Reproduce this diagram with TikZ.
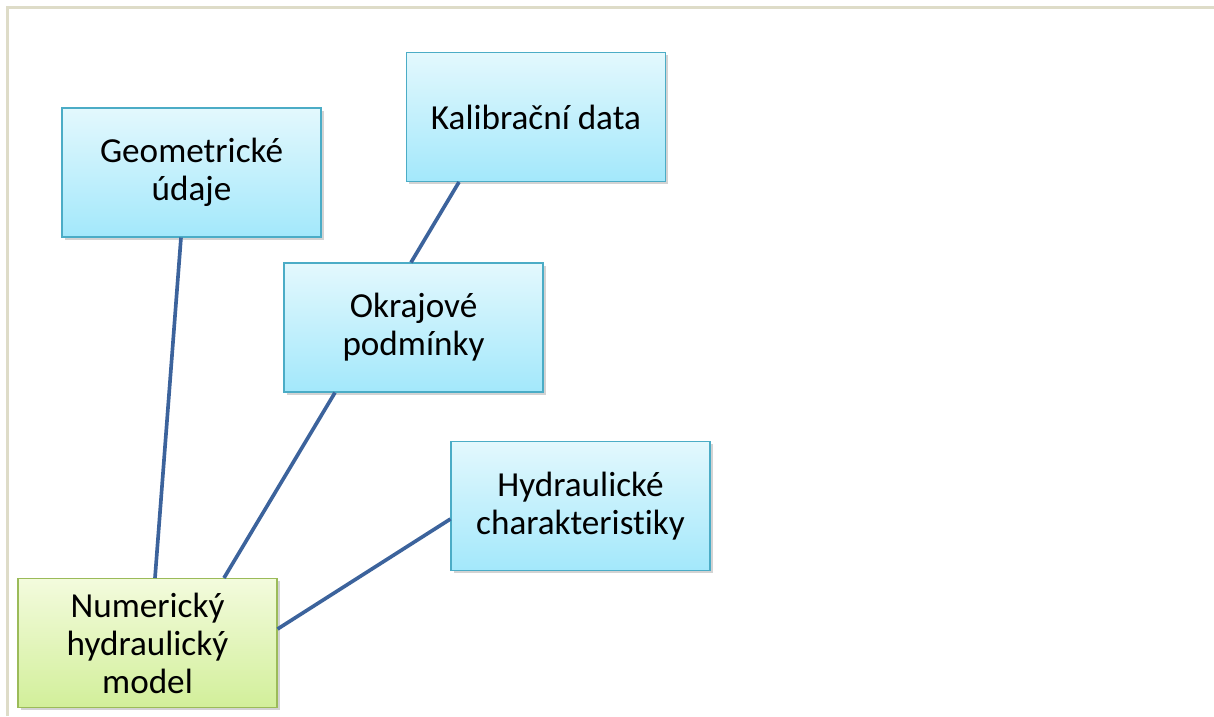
\documentclass[tikz,border=0pt]{standalone}
\usepackage{fontspec}
\setmainfont{Carlito}[Ligatures=NoCommon]
\usepackage{xcolor}
\usetikzlibrary{shadows, calc}

\definecolor{boxblueedge}{HTML}{4BACC6}
\definecolor{boxbluetop}{HTML}{E3F8FD}
\definecolor{boxbluebot}{HTML}{A3E8FB}
\definecolor{boxgreenedge}{HTML}{9BBB59}
\definecolor{boxgreentop}{HTML}{F3FBDD}
\definecolor{boxgreenbot}{HTML}{D2EF9A}
\definecolor{linkblue}{HTML}{3C639C}
\definecolor{framegray}{HTML}{DEDCC8}

\tikzset{
    databox/.style={draw=boxblueedge, line width=0.9pt, top color=boxbluetop, bottom color=boxbluebot,
        minimum width=6.47cm, minimum height=3.22cm, align=center, inner sep=2pt,
        font=\fontsize{25}{27}\selectfont,
        drop shadow={shadow xshift=0.07cm, shadow yshift=-0.07cm, opacity=0.35}},
    modelbox/.style={databox, draw=boxgreenedge, top color=boxgreentop, bottom color=boxgreenbot},
    link/.style={draw=linkblue, line width=2.6pt}
}

\begin{document}
\begin{tikzpicture}[x=0.025cm, y=-0.025cm]
            \useasboundingbox (0,0) rectangle (1214,716);
            \draw[framegray, line width=1.8pt] (7.5,716) -- (7.5,7.5) -- (1214,7.5);

            \node[databox] (geo) at (191.5, 172.5) {Geometrické\\údaje};
            \node[databox] (kal) at (536, 117) {Kalibrační data};
            \node[databox] (okr) at (413.5, 327.5) {Okrajové\\podmínky};
            \node[databox] (hyd) at (580.5, 506) {Hydraulické\\charakteristiky};
            \node[modelbox] (num) at (147.5, 643) {Numerický\\hydraulický\\model};

            \draw[link] ($(geo.south)+(-10.5,0)$) -- ($(num.north)+(7.5,0)$); % geo-num
            \draw[link] ($(kal.south)+(-77,0)$) -- ($(okr.north)+(-2.5,0)$); % kal-okr
            \draw[link] ($(okr.south)+(-78.5,0)$) -- ($(num.north)+(76.5,0)$); % okr-num
            \draw[link] ($(hyd.west)+(0,13)$) -- ($(num.east)+(0,-14)$); % hyd-num
\end{tikzpicture}
\end{document}
